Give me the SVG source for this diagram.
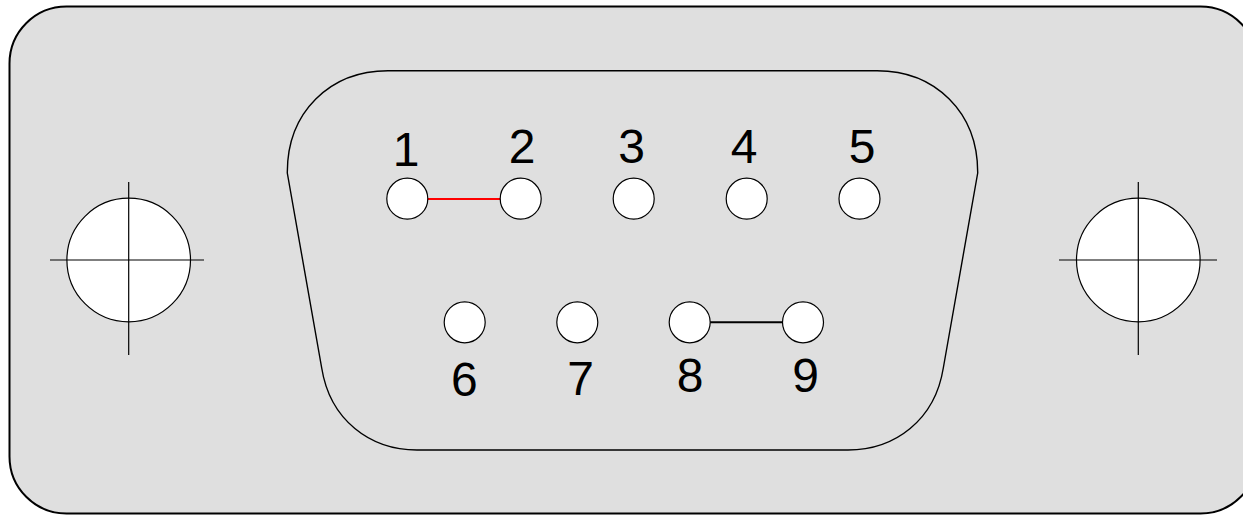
<svg xmlns="http://www.w3.org/2000/svg" width="1243" height="515" viewBox="0 0 1243 515">
<style>
.pin{fill:#fff;stroke:#000;stroke-width:1.2}
.lbl{font-family:"Liberation Sans",Arial,sans-serif;font-size:48px;fill:#000;text-anchor:middle}
.hole{fill:#fff;stroke:#000;stroke-width:1.2}
.cross{stroke:#000;stroke-width:1.2}
</style>
<rect width="1243" height="515" fill="#fff"/>
<g id="body">
<rect x="9.5" y="6.5" width="1248" height="507" rx="57" ry="57" fill="#dfdfdf" stroke="#000" stroke-width="2"/>
</g>
<g id="shell">
<path d="M388 70.7 L877 70.7 C935 70.7 978 112 977.7 173 L943.3 368 C935 420 895 450 848 450 L417 450 C370 450 330 420 321.7 368 L287.3 173 C287 112 330 70.7 388 70.7 Z" fill="#dfdfdf" stroke="#000" stroke-width="1.4"/>
</g>
<g id="mount-left">
<circle class="hole" cx="128.7" cy="260" r="61.8"/>
<line class="cross" x1="50" y1="260" x2="204" y2="260"/>
<line class="cross" x1="128.7" y1="182" x2="128.7" y2="355"/>
</g>
<g id="mount-right">
<circle class="hole" cx="1138.3" cy="260" r="61.8"/>
<line class="cross" x1="1059" y1="260" x2="1217" y2="260"/>
<line class="cross" x1="1138.3" y1="182" x2="1138.3" y2="355"/>
</g>
<g id="connectors">
<line x1="427" y1="199" x2="501" y2="199" stroke="#ff0000" stroke-width="2"/>
<line x1="710" y1="322.3" x2="783" y2="322.3" stroke="#000" stroke-width="2"/>
</g>
<g id="pin1"><circle class="pin" cx="407.3" cy="198.7" r="20.5"/><text class="lbl" x="406" y="166">1</text></g>
<g id="pin2"><circle class="pin" cx="520.7" cy="198.7" r="20.5"/><text class="lbl" x="522" y="163.3">2</text></g>
<g id="pin3"><circle class="pin" cx="633.7" cy="198.7" r="20.5"/><text class="lbl" x="631.7" y="163.3">3</text></g>
<g id="pin4"><circle class="pin" cx="746.7" cy="198.7" r="20.5"/><text class="lbl" x="744" y="163.3">4</text></g>
<g id="pin5"><circle class="pin" cx="859.5" cy="198.7" r="20.5"/><text class="lbl" x="862" y="163.3">5</text></g>
<g id="pin6"><circle class="pin" cx="464.7" cy="322.3" r="20.5"/><text class="lbl" x="464.3" y="396">6</text></g>
<g id="pin7"><circle class="pin" cx="577.3" cy="322.3" r="20.5"/><text class="lbl" x="580.7" y="395">7</text></g>
<g id="pin8"><circle class="pin" cx="689.7" cy="322.3" r="20.5"/><text class="lbl" x="690" y="391.7">8</text></g>
<g id="pin9"><circle class="pin" cx="803" cy="322.3" r="20.5"/><text class="lbl" x="805.7" y="391.7">9</text></g>
</svg>
